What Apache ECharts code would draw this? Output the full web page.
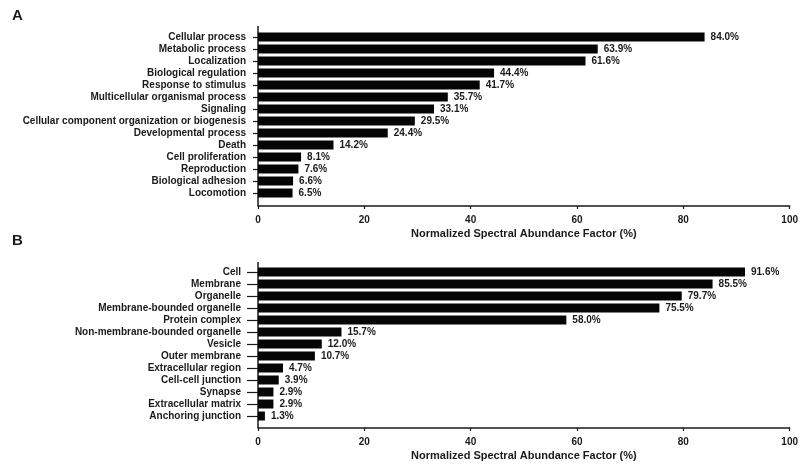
<!DOCTYPE html>
<html>
<head>
<meta charset="utf-8">
<script src="https://cdn.jsdelivr.net/npm/echarts@6/dist/echarts.min.js"></script>
<style>
  html, body { margin: 0; padding: 0; background: #fff; }
  #chart { width: 801px; height: 464px; }
</style>
</head>
<body>
<div id="chart"></div>
<script>
// Panel A: biological process categories
const processCategories = [
  'Cellular process', 'Metabolic process', 'Localization', 'Biological regulation',
  'Response to stimulus', 'Multicellular organismal process', 'Signaling',
  'Cellular component organization or biogenesis', 'Developmental process', 'Death',
  'Cell proliferation', 'Reproduction', 'Biological adhesion', 'Locomotion'
];
const processValues = [84.0, 63.9, 61.6, 44.4, 41.7, 35.7, 33.1, 29.5, 24.4, 14.2, 8.1, 7.6, 6.6, 6.5];

// Panel B: cellular component categories
const componentCategories = [
  'Cell', 'Membrane', 'Organelle', 'Membrane-bounded organelle', 'Protein complex',
  'Non-membrane-bounded organelle', 'Vesicle', 'Outer membrane', 'Extracellular region',
  'Cell-cell junction', 'Synapse', 'Extracellular matrix', 'Anchoring junction'
];
const componentValues = [91.6, 85.5, 79.7, 75.5, 58.0, 15.7, 12.0, 10.7, 4.7, 3.9, 2.9, 2.9, 1.3];

const xTicks = [0, 20, 40, 60, 80, 100];
const axisTitle = 'Normalized Spectral Abundance Factor (%)';

const FONT = '"Liberation Sans", Arial, sans-serif';
const INK = '#1a1a1a';

function xAxisFor(gridIndex, offset) {
  return {
    type: 'value', gridIndex, min: xTicks[0], max: xTicks[xTicks.length - 1],
    interval: xTicks[1] - xTicks[0], offset,
    name: axisTitle, nameLocation: 'middle', nameGap: 22,
    nameTextStyle: { fontFamily: FONT, fontWeight: 'bold', fontSize: 11, color: INK },
    axisLine: { show: true, lineStyle: { color: INK, width: 1.5 } },
    axisTick: { show: true, length: 3, lineStyle: { color: INK, width: 1.2 } },
    axisLabel: { fontFamily: FONT, fontWeight: 'bold', fontSize: 10, color: INK, margin: 9 },
    splitLine: { show: false }
  };
}

function yAxisFor(gridIndex, cats, tickLen, margin) {
  return {
    type: 'category', gridIndex, data: cats, inverse: true,
    axisLine: { show: false },
    axisTick: { show: true, alignWithLabel: true, length: tickLen, lineStyle: { color: INK, width: 1.2 } },
    axisLabel: { fontFamily: FONT, fontWeight: 'bold', fontSize: 10, color: INK, margin, interval: 0 }
  };
}

function barSeries(idx, values) {
  return {
    type: 'bar', xAxisIndex: idx, yAxisIndex: idx, data: values, barWidth: 9,
    itemStyle: { color: '#050505' },
    label: {
      show: true, position: 'right', distance: 6,
      fontFamily: FONT, fontWeight: 'bold', fontSize: 10, color: INK,
      formatter: p => p.value.toFixed(1) + '%'
    },
    silent: true
  };
}

const chart = echarts.init(document.getElementById('chart'), null, { renderer: 'canvas' });
chart.setOption({
  animation: false,
  backgroundColor: '#fff',
  grid: [
    { left: 258, right: 11, top: 31, height: 168 },
    { left: 258, right: 11, top: 266, height: 156 }
  ],
  xAxis: [xAxisFor(0, 7), xAxisFor(1, 6)],
  yAxis: [yAxisFor(0, processCategories, 5, 12), yAxisFor(1, componentCategories, 11, 17)],
  series: [barSeries(0, processValues), barSeries(1, componentValues)],
  graphic: [
    { type: 'text', left: 12, top: 8, style: { text: 'A', font: 'bold 15px ' + FONT, fill: INK } },
    { type: 'text', left: 12, top: 233, style: { text: 'B', font: 'bold 15px ' + FONT, fill: INK } },
    // vertical axis lines spanning the full plot height
    { type: 'line', shape: { x1: 258, y1: 26, x2: 258, y2: 206 }, style: { stroke: INK, lineWidth: 1.5 } },
    { type: 'line', shape: { x1: 258, y1: 262, x2: 258, y2: 428 }, style: { stroke: INK, lineWidth: 1.5 } }
  ]
});
</script>
</body>
</html>
